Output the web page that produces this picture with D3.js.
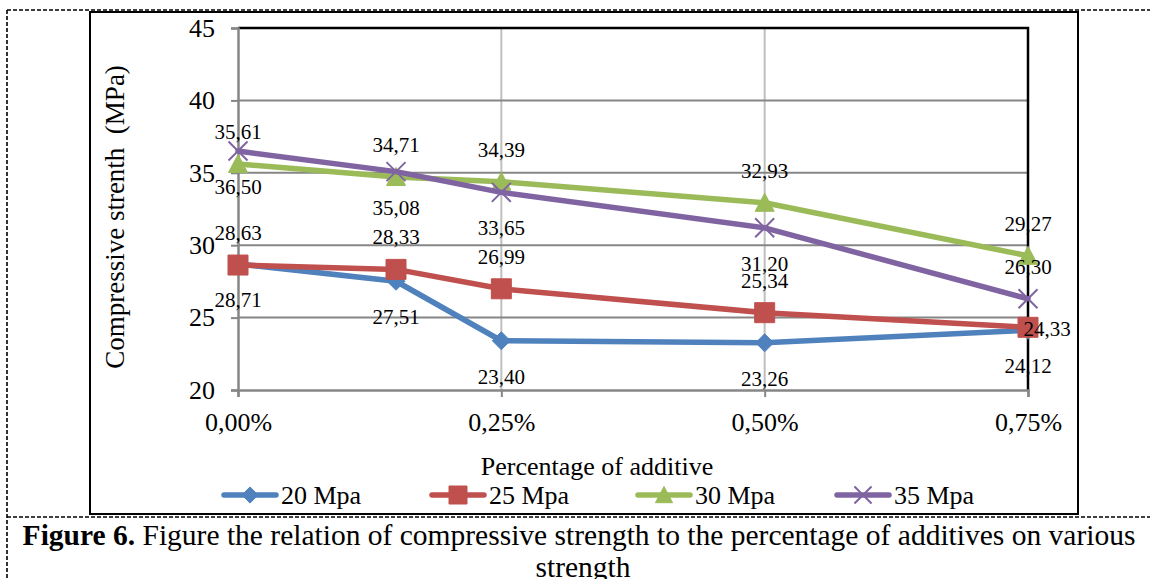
<!DOCTYPE html>
<html>
<head>
<meta charset="utf-8">
<script src="https://cdn.jsdelivr.net/npm/d3@7"></script>
<style>
  body { margin: 0; background: #fff; }
  svg { display: block; }
  text { font-family: "Liberation Serif", "Times New Roman", serif; fill: #000; white-space: pre; }
</style>
</head>
<body>
<svg id="chart" width="1150" height="579"></svg>
<script>
// Percentage of additive (%) for each measurement
const additive = [0, 0.15, 0.25, 0.5, 0.75];
const xTickValues = [0, 0.25, 0.5, 0.75];
const yTickValues = [20, 25, 30, 35, 40, 45];

// Compressive strength (MPa) for each mix grade
const mpa20 = [28.71, 27.51, 23.40, 23.26, 24.12];
const mpa25 = [28.63, 28.33, 26.99, 25.34, 24.33];
const mpa30 = [35.61, 34.71, 34.39, 32.93, 29.27];
const mpa35 = [36.50, 35.08, 33.65, 31.20, 26.30];

const seriesNames = ["20 Mpa", "25 Mpa", "30 Mpa", "35 Mpa"];
const seriesValues = [mpa20, mpa25, mpa30, mpa35];

// Appearance of each series: colour, marker and where its value labels sit
const seriesStyle = [
  { color: "#4F81BD", marker: "diamond",  labels: ["below", "below", "below", "below", "below"] },
  { color: "#C0504D", marker: "square",   labels: ["above", "above", "above", "above", "right"] },
  { color: "#9BBB59", marker: "triangle", labels: ["above", "above", "above", "above", "above"] },
  { color: "#8064A2", marker: "x",        labels: ["below", "below", "below", "below", "above"] }
];

const svg = d3.select("#chart");

// Plot area
const plot = { left: 238, right: 1028, top: 28, bottom: 390 };
const x = d3.scaleLinear().domain([0, 0.75]).range([plot.left, plot.right]);
const y = d3.scaleLinear().domain([20, 45]).range([plot.bottom, plot.top]);

const fmtValue = v => d3.format(".2f")(v).replace(".", ",");
const fmtPct = v => d3.format(".2f")(v).replace(".", ",") + "%";

// Page frame: dashed outline and the solid chart border
const dash = "4,2";
svg.append("line").attr("x1", 7).attr("x2", 1150).attr("y1", 10).attr("y2", 10)
  .attr("stroke", "#000").attr("stroke-width", 1.6).attr("stroke-dasharray", dash);
svg.append("line").attr("x1", 7).attr("x2", 1150).attr("y1", 517).attr("y2", 517)
  .attr("stroke", "#000").attr("stroke-width", 1.6).attr("stroke-dasharray", dash);
svg.append("line").attr("x1", 7).attr("x2", 7).attr("y1", 10).attr("y2", 579)
  .attr("stroke", "#000").attr("stroke-width", 1.6).attr("stroke-dasharray", dash);
svg.append("rect").attr("x", 90).attr("y", 12).attr("width", 988).attr("height", 502)
  .attr("fill", "none").attr("stroke", "#000").attr("stroke-width", 2);

// Vertical gridlines
svg.append("g").selectAll("line").data(xTickValues.filter(d => d > 0 && d < 0.75)).join("line")
  .attr("x1", d => x(d)).attr("x2", d => x(d))
  .attr("y1", plot.top).attr("y2", plot.bottom)
  .attr("stroke", "#BFBFBF").attr("stroke-width", 2);

// Horizontal gridlines
svg.append("g").selectAll("line").data(yTickValues.filter(d => d > 20 && d < 45)).join("line")
  .attr("x1", plot.left).attr("x2", plot.right)
  .attr("y1", d => y(d)).attr("y2", d => y(d))
  .attr("stroke", "#868686").attr("stroke-width", 2);

// Plot area top and right border
svg.append("path")
  .attr("d", `M${plot.left},${plot.top}H${plot.right}V${plot.bottom}`)
  .attr("fill", "none").attr("stroke", "#000").attr("stroke-width", 2.5);

// Y axis
const yAxis = d3.axisLeft(y).tickValues(yTickValues).tickSize(7).tickPadding(16).tickFormat(d3.format("d"));
const gy = svg.append("g").attr("transform", `translate(${plot.left},0)`).call(yAxis);
gy.select(".domain").attr("stroke", "#868686").attr("stroke-width", 2.5);
gy.selectAll(".tick line").attr("stroke", "#868686").attr("stroke-width", 2);
gy.selectAll(".tick text").attr("font-size", 26).attr("font-family", "Liberation Serif").attr("fill", "#000");

// X axis
const xAxis = d3.axisBottom(x).tickValues(xTickValues).tickSize(7).tickPadding(16).tickFormat(fmtPct);
const gx = svg.append("g").attr("transform", `translate(0,${plot.bottom})`).call(xAxis);
gx.select(".domain").attr("stroke", "#868686").attr("stroke-width", 2.5);
gx.selectAll(".tick line").attr("stroke", "#868686").attr("stroke-width", 2);
gx.selectAll(".tick text").attr("font-size", 26).attr("font-family", "Liberation Serif").attr("fill", "#000");

// Axis titles
svg.append("text").attr("x", 597).attr("y", 475).attr("text-anchor", "middle")
  .attr("font-size", 26).text("Percentage of additive");
svg.append("text").attr("transform", "translate(124,217) rotate(-90)").attr("text-anchor", "middle")
  .attr("font-size", 27).text("Compressive strenth  (MPa)");

// Marker shapes
function markerPath(type, s) {
  switch (type) {
    case "diamond":  return `M0,${-s}L${s},0L0,${s}L${-s},0Z`;
    case "square":   return `M${-s},${-s}H${s}V${s}H${-s}Z`;
    case "triangle": return `M0,${-s}L${s},${s * 0.9}L${-s},${s * 0.9}Z`;
    case "x":        return `M${-s},${-s}L${s},${s}M${s},${-s}L${-s},${s}`;
  }
}
const markerSize = { diamond: 9, square: 10, triangle: 9.5, x: 9.5 };

function drawMarker(g, type, color, cx, cy, scale = 1) {
  const p = g.append("path")
    .attr("transform", `translate(${cx},${cy})`)
    .attr("d", markerPath(type, markerSize[type] * scale));
  if (type === "x") p.attr("fill", "none").attr("stroke", color).attr("stroke-width", 2);
  else p.attr("fill", color).attr("stroke", color).attr("stroke-width", 1);
}

// Series lines and markers
const line = d3.line().x(d => x(d.x)).y(d => y(d.y));
seriesNames.forEach((name, i) => {
  const st = seriesStyle[i];
  const pts = additive.map((a, j) => ({ x: a, y: seriesValues[i][j] }));
  const g = svg.append("g");
  g.append("path").datum(pts).attr("d", line)
    .attr("fill", "none").attr("stroke", st.color).attr("stroke-width", 5.5)
    .attr("stroke-linejoin", "round").attr("stroke-linecap", "round");
  pts.forEach(p => drawMarker(g, st.marker, st.color, x(p.x), y(p.y)));
});

// Value labels
const labelOffset = { above: [0, -32], below: [0, 36], right: [19, 2] };
const labels = svg.append("g");
seriesNames.forEach((name, i) => {
  const st = seriesStyle[i];
  additive.forEach((a, j) => {
    const v = seriesValues[i][j];
    const [dx, dy] = labelOffset[st.labels[j]];
    labels.append("text")
      .attr("x", x(a) + dx).attr("y", y(v) + dy + 7)
      .attr("text-anchor", "middle").attr("font-size", 21)
      .text(fmtValue(v));
  });
});

// Legend
const legendX = [222, 430, 636, 835];
const legend = svg.append("g");
seriesNames.forEach((name, i) => {
  const st = seriesStyle[i];
  const lx = legendX[i], ly = 495;
  legend.append("line").attr("x1", lx + 2).attr("x2", lx + 54).attr("y1", ly).attr("y2", ly)
    .attr("stroke", st.color).attr("stroke-width", 5.5).attr("stroke-linecap", "round");
  drawMarker(legend, st.marker, st.color, lx + 28, ly, 0.9);
  legend.append("text").attr("x", lx + 59).attr("y", ly + 9).attr("font-size", 26).text(name);
});

// Caption
const cap = svg.append("text").attr("x", 579).attr("y", 545).attr("text-anchor", "middle").attr("font-size", 29.5);
cap.append("tspan").attr("font-weight", "bold").text("Figure 6.");
cap.append("tspan").text(" Figure the relation of compressive strength to the percentage of additives on various");
svg.append("text").attr("x", 583).attr("y", 577).attr("text-anchor", "middle").attr("font-size", 29.5).text("strength");
</script>
</body>
</html>
